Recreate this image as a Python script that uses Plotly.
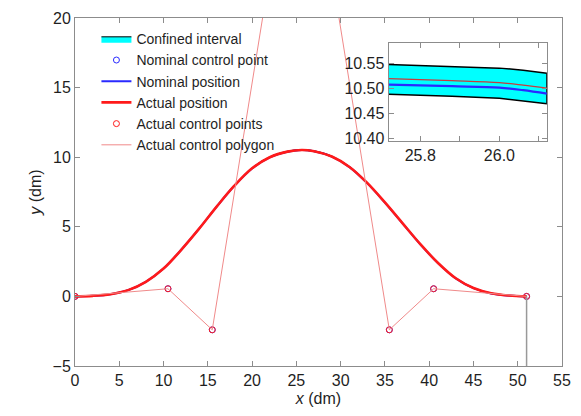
import plotly.graph_objects as go

# ---------------- data ----------------
# actual / nominal position along the beam (main panel)
pos_x = [0, 2, 4, 6, 8, 10, 12, 14, 16, 18, 20, 22, 24, 25.6,
         27, 29, 31, 33, 35, 37, 39, 41, 43, 45, 47, 49, 51]
actual_y = [0, 0.04, 0.16, 0.45, 1.05, 2.0, 3.35, 4.85, 6.45, 7.95, 9.2, 10.0, 10.4, 10.52,
            10.43, 10.05, 9.3, 8.15, 6.75, 5.25, 3.75, 2.4, 1.3, 0.6, 0.22, 0.06, 0]
nominal_y = [0, 0.04, 0.16, 0.45, 1.05, 2.0, 3.35, 4.85, 6.45, 7.95, 9.19, 9.99, 10.39, 10.51,
             10.42, 10.04, 9.29, 8.14, 6.74, 5.24, 3.74, 2.39, 1.29, 0.59, 0.21, 0.06, 0]
band_half = [0, 0.01, 0.01, 0.02, 0.02, 0.02, 0.03, 0.03, 0.03, 0.03, 0.03, 0.03, 0.03, 0.03,
             0.03, 0.03, 0.03, 0.03, 0.03, 0.03, 0.03, 0.02, 0.02, 0.02, 0.01, 0.01, 0]

# control points
ctrl_x = [0, 10.5, 15.5, 25.5, 35.5, 40.5, 51.0]
ctrl_y = [0, 0.55, -2.4, 37.0, -2.4, 0.55, 0]

# support line at the right end
support_x = [51.0, 51.0]
support_y = [0, -5]

# zoomed inset readings
ins_x = [25.72, 25.88, 26.00, 26.06, 26.12]
ins_upper = [10.547, 10.543, 10.540, 10.536, 10.530]
ins_lower = [10.488, 10.484, 10.480, 10.475, 10.469]
ins_actual = [10.519, 10.515, 10.511, 10.506, 10.500]
ins_nominal = [10.507, 10.504, 10.501, 10.496, 10.489]

main_xticks = [0, 5, 10, 15, 20, 25, 30, 35, 40, 45, 50, 55]
main_yticks = [-5, 0, 5, 10, 15, 20]
ins_xticks = [25.8, 25.9, 26.0, 26.1]
ins_xticktext = ["25.8", "", "26.0", ""]
ins_yticks = [10.40, 10.45, 10.50, 10.55]

# ---------------- figure ----------------
FONT = "Liberation Sans, Arial, Helvetica, sans-serif"
AX = "#8c8c8c"
CYAN = "#00ffff"
RED = "#ff1a1a"
POLY = "#f08a8a"
BLUE = "#2a2aff"

fig = go.Figure()

band_x = pos_x + pos_x[::-1]
band_y = [a + h for a, h in zip(actual_y, band_half)] + \
         [a - h for a, h in zip(actual_y[::-1], band_half[::-1])]
fig.add_trace(go.Scatter(x=band_x, y=band_y, fill="toself", fillcolor=CYAN,
                         mode="lines", line=dict(color="black", width=1, shape="spline"),
                         name="Confined interval", xaxis="x", yaxis="y"))
fig.add_trace(go.Scatter(x=ctrl_x, y=ctrl_y, mode="markers",
                         marker=dict(symbol="circle-open", size=6, color=BLUE,
                                     line=dict(width=1)),
                         name="Nominal control point", xaxis="x", yaxis="y"))
fig.add_trace(go.Scatter(x=pos_x, y=nominal_y, mode="lines",
                         line=dict(color=BLUE, width=2, shape="spline"),
                         name="Nominal position", xaxis="x", yaxis="y"))
fig.add_trace(go.Scatter(x=pos_x, y=actual_y, mode="lines",
                         line=dict(color=RED, width=2.6, shape="spline"),
                         name="Actual position", xaxis="x", yaxis="y"))
fig.add_trace(go.Scatter(x=ctrl_x, y=ctrl_y, mode="markers",
                         marker=dict(symbol="circle-open", size=6, color=RED,
                                     line=dict(width=1)),
                         name="Actual control points", xaxis="x", yaxis="y"))
fig.add_trace(go.Scatter(x=ctrl_x, y=ctrl_y, mode="lines",
                         line=dict(color=POLY, width=1),
                         name="Actual control polygon", xaxis="x", yaxis="y"))
fig.add_trace(go.Scatter(x=support_x, y=support_y, mode="lines",
                         line=dict(color="#999999", width=1.5),
                         showlegend=False, hoverinfo="skip", xaxis="x", yaxis="y"))

# inset
fig.add_trace(go.Scatter(x=ins_x + ins_x[::-1], y=ins_upper + ins_lower[::-1],
                         fill="toself", fillcolor=CYAN, mode="lines",
                         line=dict(color="black", width=1.5),
                         showlegend=False, xaxis="x2", yaxis="y2"))
fig.add_trace(go.Scatter(x=ins_x, y=ins_nominal, mode="lines",
                         line=dict(color=BLUE, width=2.2, shape="spline"),
                         showlegend=False, xaxis="x2", yaxis="y2"))
fig.add_trace(go.Scatter(x=ins_x, y=ins_actual, mode="lines",
                         line=dict(color="#c83c3c", width=1.2, shape="spline"),
                         showlegend=False, xaxis="x2", yaxis="y2"))

axis_common = dict(showgrid=False, zeroline=False, showline=True, linecolor=AX,
                   linewidth=1, mirror="ticks", ticks="inside", ticklen=5,
                   tickcolor=AX, tickfont=dict(family=FONT, size=16, color="#1f1f1f"))

fig.update_layout(
    width=581, height=416,
    margin=dict(l=75, r=10, t=14, b=50),
    paper_bgcolor="white", plot_bgcolor="white",
    font=dict(family=FONT, size=16, color="#1f1f1f"),
    showlegend=True,
    legend=dict(x=0.044, y=0.985, xanchor="left", yanchor="top",
                bgcolor="rgba(0,0,0,0)", borderwidth=0,
                font=dict(family=FONT, size=14, color="#1f1f1f"),
                traceorder="normal"),
    xaxis=dict(range=[0, 55], tickvals=main_xticks, domain=[0, 1],
               title=dict(text="<i>x</i> (dm)", standoff=4,
                          font=dict(family=FONT, size=16, color="#1f1f1f")),
               **axis_common),
    yaxis=dict(range=[-5, 20], tickvals=main_yticks, domain=[0, 1],
               title=dict(text="<i>y</i> (dm)", standoff=6,
                          font=dict(family=FONT, size=16, color="#1f1f1f")),
               **axis_common),
    xaxis2=dict(range=[25.72, 26.12], tickvals=ins_xticks, ticktext=ins_xticktext,
                domain=[0.644, 0.969], anchor="y2", **axis_common),
    yaxis2=dict(range=[10.395, 10.59], tickvals=ins_yticks, tickformat=".2f",
                domain=[0.647, 0.928], anchor="x2", **axis_common),
)

fig.write_html("out.html",
               config={"displayModeBar": False},
               post_script="document.body.style.margin='0';document.body.style.overflow='hidden';")
